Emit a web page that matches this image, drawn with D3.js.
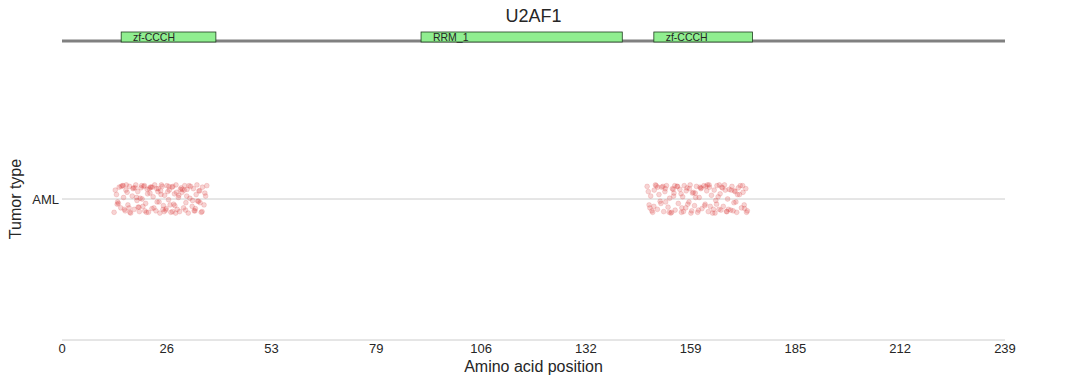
<!DOCTYPE html>
<html>
<head>
<meta charset="utf-8">
<script src="https://cdn.jsdelivr.net/npm/d3@7"></script>
<style>
  body { margin: 0; background: #fff; }
  text { font-family: "Liberation Sans", Arial, sans-serif; fill: #262626; }
</style>
</head>
<body>
<div id="chart"></div>
<script>
// gene + protein domains
var geneName = "U2AF1";
var proteinLength = 239;
var domainNames = ["zf-CCCH", "RRM_1", "zf-CCCH"];
var domainStarts = [15, 91, 150];
var domainEnds = [39, 142, 175];

// x ticks (linspace 0..239, labels truncated)
var tickValues = [0, 26.56, 53.11, 79.67, 106.22, 132.78, 159.33, 185.89, 212.44, 239];
var tickLabels = ["0", "26", "53", "79", "106", "132", "159", "185", "212", "239"];

var tumorTypes = ["AML"];

// mutation positions (jittered) and vertical jitter, cluster near S34
var posA = [13.2,13.8,14.1,14.5,14.9,15.3,15.6,16.0,16.2,16.7,17.1,17.4,17.8,18.0,18.3,18.7,19.0,19.2,19.6,20.0,
  20.3,20.5,20.9,21.2,21.6,21.9,22.3,22.6,22.8,23.1,23.5,23.8,24.1,24.4,24.8,25.0,25.4,25.7,26.0,26.3,
  26.6,27.0,27.2,27.6,27.9,28.3,28.5,28.9,29.2,29.5,29.8,30.2,30.4,30.8,31.1,31.4,31.7,32.0,32.4,32.6,
  33.0,33.3,33.7,34.0,34.2,34.6,34.9,35.3,35.6,36.0,36.4,36.7,
  13.5,14.3,15.0,15.8,16.5,17.2,18.1,18.9,19.5,20.2,21.0,21.7,22.4,23.3,24.0,24.6,25.2,25.9,26.8,27.4,
  28.1,28.8,29.6,30.5,31.3,32.2,33.1,33.8,34.7,35.5,36.2,
  14.0,15.5,17.0,18.5,19.8,21.4,22.9,24.3,25.6,27.1,28.6,30.0,31.6,33.5,35.0,16.3,19.3,22.1,25.1,28.0,
  31.0,34.4,20.7,26.4,29.0];
var jitA = [-0.9,0.3,-0.2,0.8,-0.6,0.9,0.1,-0.8,0.6,-0.4,0.85,-0.95,0.2,0.7,-0.7,0.95,-0.1,0.5,-0.85,0.75,
  0.0,-0.5,0.9,-0.3,0.65,-0.9,0.4,0.8,-0.65,0.15,0.95,-0.8,-0.2,0.7,-0.95,0.55,0.85,-0.45,0.25,-0.75,
  0.9,-0.05,0.6,-0.9,0.8,-0.35,0.35,0.95,-0.7,0.1,-0.85,0.75,0.45,-0.6,0.9,-0.25,0.65,-0.95,0.05,0.85,
  -0.5,0.7,-0.8,0.3,0.95,-0.15,0.55,-0.9,0.8,-0.4,0.2,0.9,
  0.6,-0.3,0.85,-0.7,0.45,-0.9,0.75,0.1,-0.55,0.9,-0.8,0.35,0.8,-0.6,0.7,-0.2,0.95,-0.85,0.5,-0.4,
  0.85,-0.95,0.25,0.65,-0.75,0.9,-0.1,-0.65,0.55,-0.85,0.4,
  -0.35,0.9,-0.6,0.75,0.05,-0.9,0.8,0.5,-0.7,0.85,-0.45,0.65,0.2,-0.8,-0.25,0.95,-0.55,0.7,0.3,-0.85,
  0.6,-0.15,0.85,-0.65,0.45];

// cluster near Q157
var posB = [148.3,148.8,149.2,149.7,150.1,150.4,150.9,151.3,151.6,152.0,152.5,152.8,153.2,153.6,154.0,154.3,154.7,155.1,155.4,155.9,
  156.2,156.6,157.0,157.3,157.7,158.1,158.4,158.9,159.2,159.6,160.0,160.3,160.8,161.1,161.5,161.9,162.2,162.7,163.0,163.4,
  163.8,164.1,164.6,164.9,165.3,165.7,166.0,166.5,166.8,167.2,167.6,167.9,168.4,168.7,169.1,169.5,169.8,170.3,170.6,171.0,
  171.4,171.7,172.2,172.5,172.9,173.3,173.7,
  148.6,149.5,150.6,151.8,152.9,153.9,155.0,156.0,157.1,158.2,159.4,160.5,161.7,162.9,164.0,165.1,166.3,167.4,168.5,169.6,
  170.8,171.9,173.0,150.0,152.3,154.5,156.9,159.0,161.3,163.6,165.9,168.1,170.1,172.6,
  149.0,151.0,153.0,155.3,157.5,159.8,162.0,164.3,166.6,168.9,171.2,173.5,154.9,158.6,163.2,167.0,170.4,160.6,165.5];
var jitB = [0.85,-0.4,0.2,-0.9,0.6,0.95,-0.7,0.3,-0.15,0.8,-0.85,0.5,0.9,-0.55,0.05,-0.95,0.7,0.4,-0.75,0.85,
  -0.3,0.65,-0.9,0.15,0.9,-0.6,0.75,-0.2,0.95,-0.8,0.45,-0.45,0.85,-0.9,0.1,0.7,-0.65,0.9,-0.35,0.55,
  -0.85,0.8,0.25,-0.95,0.6,-0.1,0.9,-0.7,0.35,0.8,-0.5,0.95,-0.85,0.0,0.65,-0.75,0.85,-0.25,0.5,-0.9,
  0.75,0.3,-0.6,0.9,-0.4,0.7,-0.8,
  0.5,-0.8,0.9,-0.3,0.7,-0.9,0.2,0.85,-0.6,0.55,-0.95,0.4,0.8,-0.45,0.95,-0.7,0.15,0.75,-0.85,0.6,
  -0.2,0.9,-0.65,-0.5,0.85,-0.9,0.35,0.7,-0.75,0.95,-0.35,0.6,-0.8,0.45,
  -0.6,0.8,-0.2,0.9,-0.85,0.4,0.75,-0.5,0.95,-0.7,0.3,-0.9,0.65,-0.35,0.85,-0.75,0.55,0.1,-0.95];

var width = 1078, height = 385;
var plotLeft = 62, plotRight = 1005, plotBottom = 340, plotTop = 58;
var jitterWidth = 0.105; // in y units

var svg = d3.select("#chart").append("svg")
    .attr("width", width)
    .attr("height", height);

var x = d3.scaleLinear().domain([0, proteinLength]).range([plotLeft, plotRight]);
var y = d3.scaleLinear().domain([-1, 1]).range([plotBottom, plotTop]); // AML sits at 0

// title
svg.append("text")
    .attr("x", (plotLeft + plotRight) / 2)
    .attr("y", 22)
    .attr("text-anchor", "middle")
    .style("font-size", "18px")
    .text(geneName);

// gene backbone
svg.append("line")
    .attr("x1", x(0)).attr("x2", x(proteinLength))
    .attr("y1", 41).attr("y2", 41)
    .attr("stroke", "#808080")
    .attr("stroke-width", 3);

var domains = d3.range(domainNames.length).map(function (i) {
    return { name: domainNames[i], start: domainStarts[i], end: domainEnds[i] };
});
var dom = svg.selectAll(".domain-box")
    .data(domains)
    .enter()
    .append("g")
    .attr("class", "domain-box");
dom.append("rect")
    .attr("x", function (d) { return x(d.start); })
    .attr("y", 32)
    .attr("width", function (d) { return x(d.end) - x(d.start); })
    .attr("height", 10)
    .attr("fill", "#90ee90")
    .attr("stroke", "#1f3d1f")
    .attr("stroke-width", 0.8);
dom.append("text")
    .attr("x", function (d) { return x(d.start + 3); })
    .attr("y", 41)
    .style("font-size", "10.5px")
    .text(function (d) { return d.name; });

// bottom axis (line + labels, no tick marks)
svg.append("line")
    .attr("x1", plotLeft).attr("x2", plotRight)
    .attr("y1", plotBottom).attr("y2", plotBottom)
    .attr("stroke", "#cccccc")
    .attr("stroke-width", 1);
svg.selectAll(".xtick")
    .data(tickValues)
    .enter()
    .append("text")
    .attr("class", "xtick")
    .attr("x", function (d) { return x(d); })
    .attr("y", 353)
    .attr("text-anchor", "middle")
    .style("font-size", "13px")
    .text(function (d, i) { return tickLabels[i]; });
svg.append("text")
    .attr("x", (plotLeft + plotRight) / 2)
    .attr("y", 372)
    .attr("text-anchor", "middle")
    .style("font-size", "16px")
    .text("Amino acid position");

// y category gridline + label
tumorTypes.forEach(function (t, i) {
    svg.append("line")
        .attr("x1", plotLeft).attr("x2", plotRight)
        .attr("y1", y(i)).attr("y2", y(i))
        .attr("stroke", "#cccccc")
        .attr("stroke-width", 1);
    svg.append("text")
        .attr("x", 59)
        .attr("y", y(i) + 4.5)
        .attr("text-anchor", "end")
        .style("font-size", "13px")
        .text(t);
});
svg.append("text")
    .attr("transform", "translate(21," + y(0) + ") rotate(-90)")
    .attr("text-anchor", "middle")
    .style("font-size", "16px")
    .text("Tumor type");

// mutation points
var points = d3.zip(posA, jitA).concat(d3.zip(posB, jitB));
svg.append("g")
    .selectAll("circle")
    .data(points)
    .enter()
    .append("circle")
    .attr("cx", function (d) { return x(d[0]); })
    .attr("cy", function (d) { return y(0 + d[1] * jitterWidth); })
    .attr("r", 2.4)
    .attr("fill", "#d62728")
    .attr("fill-opacity", 0.2)
    .attr("stroke", "#e06060")
    .attr("stroke-opacity", 0.28)
    .attr("stroke-width", 0.8);
</script>
</body>
</html>
